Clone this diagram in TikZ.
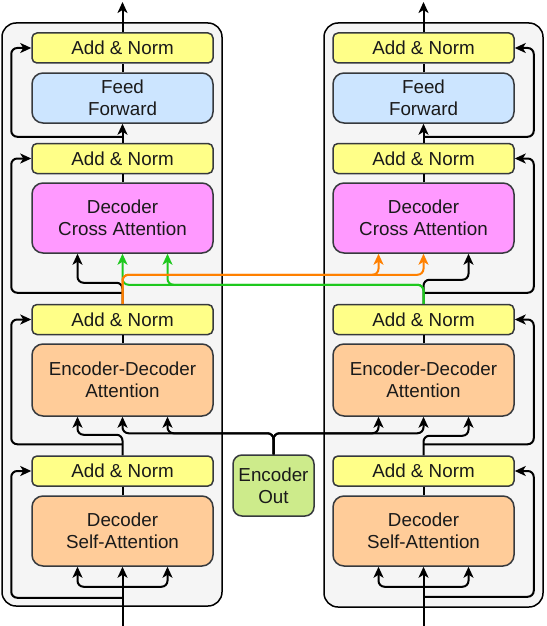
\documentclass[tikz,border=0pt]{standalone}
\usepackage{fontspec}
\setmainfont{Liberation Sans}
\usetikzlibrary{arrows.meta,calc}
\definecolor{bordercol}{HTML}{36393D}
\definecolor{txtcol}{HTML}{1A1A1A}
\definecolor{panelfill}{HTML}{F5F5F5}
\definecolor{yel}{HTML}{FFFF88}
\definecolor{ffblue}{HTML}{CCE5FF}
\definecolor{pinkbox}{HTML}{FF99FF}
\definecolor{peach}{HTML}{FFCC99}
\definecolor{encgreen}{HTML}{CDEB8B}
\definecolor{orangeline}{HTML}{FF8000}
\definecolor{greenline}{HTML}{1EC81E}
\begin{document}
\begin{tikzpicture}[x=1pt,y=-1pt,
  >={Stealth[length=11pt,width=10pt,inset=3pt]},
  panel/.style={draw=black, line width=1.5pt, fill=panelfill, rounded corners=14pt, inner sep=0pt},
  blk/.style={draw=bordercol, line width=1.5pt, text=txtcol, align=center,
    font=\fontsize{18.8}{22}\selectfont, inner sep=0pt, minimum width=181pt},
  anbox/.style={blk, fill=yel, minimum height=30pt, rounded corners=5pt},
  bigbox/.style={blk, rounded corners=11pt},
  conn/.style={line width=2pt, rounded corners=6pt},
  arr/.style={conn, ->},
  arrb/.style={conn, <->},
  oarr/.style={arr, draw=orangeline},
  garr/.style={arr, draw=greenline}]
\useasboundingbox (0,0) rectangle (546,626);

% panels
\node[panel, minimum width=220pt, minimum height=583pt] (Lpanel) at (112,314.5) {};
\node[panel, minimum width=219pt, minimum height=584pt] (Rpanel) at (433.5,315) {};

% left column
\node[anbox] (Lan1) at (122.5,48) {Add \& Norm};
\node[bigbox, fill=ffblue, minimum height=50pt] (Lff) at (122.5,98) {Feed\\Forward};
\node[anbox] (Lan2) at (122.5,158.5) {Add \& Norm};
\node[bigbox, fill=pinkbox, minimum height=70pt] (Lca) at (122.5,218) {Decoder\\Cross Attention};
\node[anbox] (Lan3) at (122.5,319.5) {Add \& Norm};
\node[bigbox, fill=peach, minimum height=72pt] (Leda) at (122.5,380) {Encoder-Decoder\\Attention};
\node[anbox] (Lan4) at (122.5,471) {Add \& Norm};
\node[bigbox, fill=peach, minimum height=70pt] (Lsa) at (122.5,531) {Decoder\\Self-Attention};

% right column
\node[anbox] (Ran1) at (423.5,48) {Add \& Norm};
\node[bigbox, fill=ffblue, minimum height=50pt] (Rff) at (423.5,98) {Feed\\Forward};
\node[anbox] (Ran2) at (423.5,158.5) {Add \& Norm};
\node[bigbox, fill=pinkbox, minimum height=70pt] (Rca) at (423.5,218) {Decoder\\Cross Attention};
\node[anbox] (Ran3) at (423.5,319.5) {Add \& Norm};
\node[bigbox, fill=peach, minimum height=72pt] (Reda) at (423.5,380) {Encoder-Decoder\\Attention};
\node[anbox] (Ran4) at (423.5,471) {Add \& Norm};
\node[bigbox, fill=peach, minimum height=70pt] (Rsa) at (423.5,531) {Decoder\\Self-Attention};

% encoder out
\node[blk, fill=encgreen, minimum width=81pt, minimum height=61pt, rounded corners=9pt] (enc) at (273.5,485.5) {Encoder\\Out};

\coordinate (Lin) at (122.5,626);
\coordinate (Rin) at (423.5,626);
\coordinate (Lout) at (122.5,2);
\coordinate (Rout) at (423.5,2);

% ---------- left column connectors ----------
\draw[arr] (Lin) -- (Lsa.south);
\draw[arrb] ($(Lsa.south)+(-45,0)$) |- ($(Lsa.south)+(0,20)$) -| ($(Lsa.south)+(45,0)$);
\draw[arr] ($(Lsa.south)+(0,31)$) -| ($(Lan4.west)+(-20,0)$) -- (Lan4.west);
\draw[conn] (Lsa.north) -- (Lan4.south);
\draw[arr] (Lan4.north) -- ($(Leda.south)+(0,18)$) -| ($(Leda.south)+(-45,0)$);
\draw[arr] ($(Lan4.north)+(0,-11)$) -| ($(Lan3.west)+(-20,0)$) -- (Lan3.west);
\draw[conn] (Leda.north) -- (Lan3.south);
\draw[arr] (Lan3.north) -- ($(Lca.south)+(0,29)$) -| ($(Lca.south)+(-45,0)$);
\draw[arr] ($(Lan3.north)+(0,-11)$) -| ($(Lan2.west)+(-20,0)$) -- (Lan2.west);
\draw[conn] (Lca.north) -- (Lan2.south);
\draw[arr] (Lan2.north) -- (Lff.south);
\draw[arr] ($(Lan2.north)+(0,-6)$) -| ($(Lan1.west)+(-20,0)$) -- (Lan1.west);
\draw[conn] (Lff.north) -- (Lan1.south);
\draw[arr] (Lan1.north) -- (Lout);

% ---------- right column connectors ----------
\draw[arr] (Rin) -- (Rsa.south);
\draw[arrb] ($(Rsa.south)+(-45,0)$) |- ($(Rsa.south)+(0,20)$) -| ($(Rsa.south)+(45,0)$);
\draw[arr] ($(Rsa.south)+(0,30)$) -| ($(Ran4.east)+(19,0)$) -- (Ran4.east);
\draw[conn] (Rsa.north) -- (Ran4.south);
\draw[arr] (Ran4.north) -- ($(Reda.south)+(0,19)$) -| ($(Reda.south)+(45,0)$);
\draw[arr] ($(Ran4.north)+(0,-11)$) -| ($(Ran3.east)+(19,0)$) -- (Ran3.east);
\draw[conn] (Reda.north) -- (Ran3.south);
\draw[arr] (Ran3.north) -- ($(Rca.south)+(0,26)$) -| ($(Rca.south)+(45,0)$);
\draw[arr] ($(Ran3.north)+(0,-11)$) -| ($(Ran2.east)+(19,0)$) -- (Ran2.east);
\draw[conn] (Rca.north) -- (Ran2.south);
\draw[arr] (Ran2.north) -- (Rff.south);
\draw[arr] ($(Ran2.north)+(0,-6)$) -| ($(Ran1.east)+(19,0)$) -- (Ran1.east);
\draw[conn] (Rff.north) -- (Ran1.south);
\draw[arr] (Ran1.north) -- (Rout);

% ---------- encoder out to both encoder-decoder attentions ----------
\draw[arr] (enc.north) -- ($(enc.north)+(0,-21)$) -| ($(Leda.south)+(45,0)$);
\draw[arr] (enc.north) -- ($(enc.north)+(0,-21)$) -| (Leda.south);
\draw[arr] (enc.north) -- ($(enc.north)+(0,-21)$) -| ($(Reda.south)+(-45,0)$);
\draw[arr] (enc.north) -- ($(enc.north)+(0,-21)$) -| (Reda.south);

% ---------- cross connections ----------
\draw[garr] (Ran3.north) -- ($(Rca.south)+(0,31)$) -| ($(Lca.south)+(45,0)$);
\draw[garr] (Ran3.north) -- ($(Rca.south)+(0,31)$) -| (Lca.south);
\draw[oarr] (Lan3.north) -- ($(Lca.south)+(0,21)$) -| ($(Rca.south)+(-45,0)$);
\draw[oarr] (Lan3.north) -- ($(Lca.south)+(0,21)$) -| (Rca.south);
\end{tikzpicture}
\end{document}
